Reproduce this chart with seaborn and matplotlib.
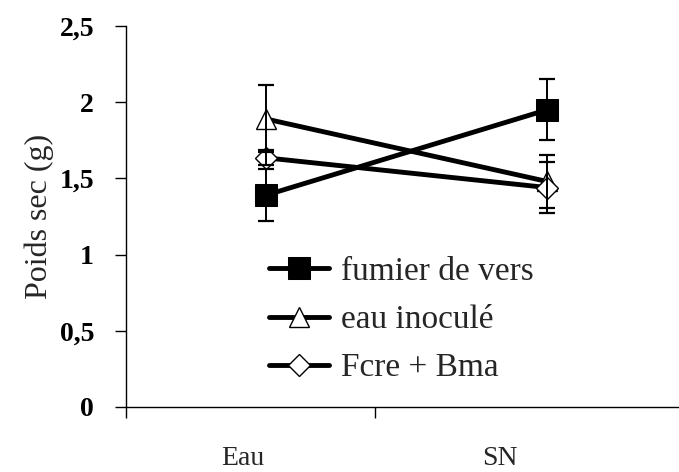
import numpy as np
import pandas as pd
import matplotlib
matplotlib.use("Agg")
import matplotlib.pyplot as plt
import seaborn as sns

# ---- data ----
categories = ["Eau", "SN"]
series_names = ["fumier de vers", "eau inoculé", "Fcre + Bma"]
fumier_vals = [1.39, 1.95]
fumier_err = [0.17, 0.20]
inocule_vals = [1.89, 1.48]
inocule_err = [0.22, 0.175]
fcre_vals = [1.635, 1.44]
fcre_err = [0.05, 0.17]
yticks = [0, 0.5, 1, 1.5, 2, 2.5]
ytick_labels = ["0", "0,5", "1", "1,5", "2", "2,5"]

sns.set_style("ticks")
plt.rcParams["font.family"] = ["Liberation Serif", "DejaVu Serif"]

W, H = 679, 472
fig = plt.figure(figsize=(W / 100, H / 100), dpi=100)
ax = fig.add_axes([126 / W, 1 - 407 / H, (W - 126) / W, (407 - 26) / H])

xpos = np.arange(len(categories))
styles = [
    dict(marker="s", markersize=16.5, markerfacecolor="black", markeredgecolor="black"),
    dict(marker="^", markersize=15, markerfacecolor="white", markeredgecolor="black", markeredgewidth=1.0),
    dict(marker="D", markersize=11, markerfacecolor="white", markeredgecolor="black", markeredgewidth=1.0),
]
all_vals = [fumier_vals, inocule_vals, fcre_vals]
all_errs = [fumier_err, inocule_err, fcre_err]

for name, vals, errs, st in zip(series_names, all_vals, all_errs, styles):
    df = pd.DataFrame({"x": xpos, "y": vals})
    sns.lineplot(data=df, x="x", y="y", ax=ax, color="black", linewidth=3.5,
                 label=name, zorder=3, **st)
    ax.errorbar(xpos, vals, yerr=errs, fmt="none", ecolor="black",
                elinewidth=1.4, capsize=5.5, capthick=1.6, zorder=4)

# axes layout
px_per_unit = 281.0
left_lim = (126 - 266) / px_per_unit
right_lim = (W - 266) / px_per_unit
ax.set_xlim(left_lim, right_lim)
ax.set_ylim(0, 2.5)

ax.set_yticks(yticks)
ax.set_yticklabels(ytick_labels, fontsize=20, fontweight="bold")
ax.tick_params(axis="y", direction="out", length=8, width=1, pad=15, colors="black")

label_pos = [(243 - 266) / px_per_unit, (500 - 266) / px_per_unit]
ax.set_xticks(label_pos)
ax.set_xticklabels(categories, fontsize=20)
ax.tick_params(axis="x", which="major", length=0, pad=28)
ax.set_xticks([left_lim, (375 - 266) / px_per_unit], minor=True)
ax.tick_params(axis="x", which="minor", direction="out", length=8, width=1, colors="black")

ax.set_xlabel("")
ax.set_ylabel("Poids sec (g)", fontsize=23, labelpad=4)

for s in ["top", "right"]:
    ax.spines[s].set_visible(False)
for s in ["left", "bottom"]:
    ax.spines[s].set_color("black")
    ax.spines[s].set_linewidth(1.0)

leg = ax.legend(loc="center left", bbox_to_anchor=(269 / W, 1 - 320 / H),
                bbox_transform=fig.transFigure, frameon=False, fontsize=24,
                handlelength=1.8, handletextpad=0.35, labelspacing=0.53,
                borderpad=0, borderaxespad=0)

fig.savefig("out.png", dpi=100)
